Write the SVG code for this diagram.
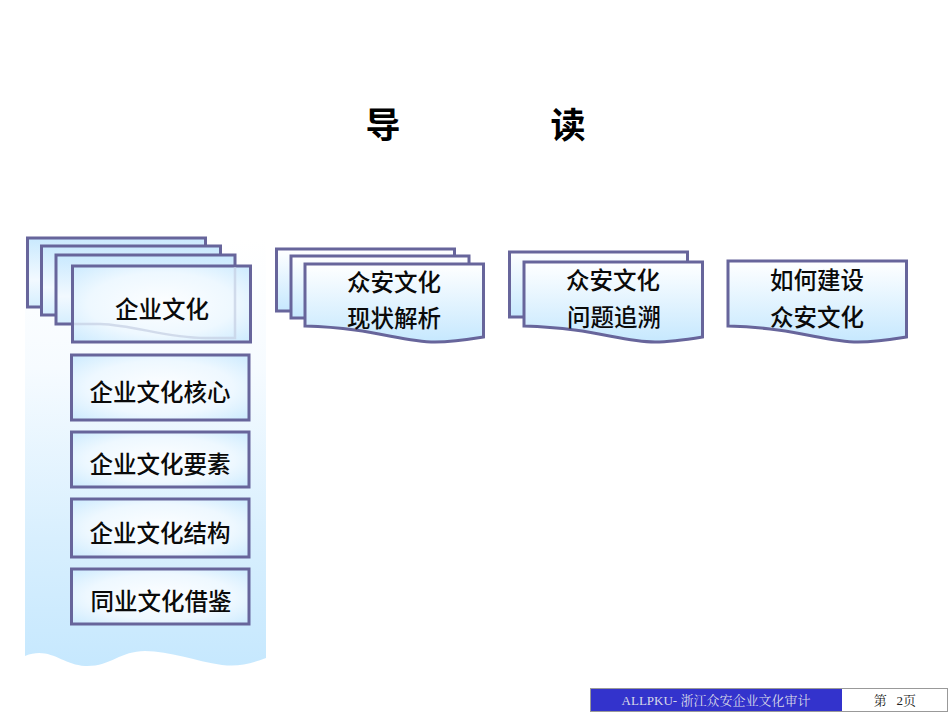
<svg xmlns="http://www.w3.org/2000/svg" width="950" height="713" viewBox="0 0 950 713">
<style>
.s{stroke:#67659b;stroke-width:3;stroke-linejoin:miter}
.lb{font-family:"Noto Sans CJK SC",sans-serif;font-size:23.500px;font-weight:500;fill:#0a0a0a;text-anchor:middle}
.t{font-family:"Noto Sans CJK SC",sans-serif;font-size:35px;font-weight:700;fill:#000;text-anchor:middle}
.f{font-family:"Liberation Serif","Noto Serif CJK SC","Noto Sans CJK SC",serif;font-size:13px;text-anchor:middle;white-space:pre}
</style>
<defs>
<linearGradient id="v" x1="0" y1="0" x2="0" y2="1"><stop offset="0" stop-color="#fff"/><stop offset="0.3" stop-color="#f6fbff"/><stop offset="0.7" stop-color="#d8effe"/><stop offset="1" stop-color="#c6e8fe"/></linearGradient>
<linearGradient id="p" x1="0" y1="0" x2="0" y2="1"><stop offset="0" stop-color="#c9e9fe"/><stop offset="0.6" stop-color="#f2f9ff"/><stop offset="1" stop-color="#d5eefe"/></linearGradient>
<linearGradient id="d" x1="0" y1="0" x2="0" y2="1"><stop offset="0" stop-color="#fff"/><stop offset="1" stop-color="#c6e8fe"/></linearGradient>
<radialGradient id="b" cx="0.5" cy="0.5" r="0.75"><stop offset="0" stop-color="#fdfeff"/><stop offset="0.55" stop-color="#eef8ff"/><stop offset="1" stop-color="#c6e8fe"/></radialGradient>
</defs>
<rect width="950" height="713" fill="#fff"/>
<g id="title"><text class="t" x="383" y="138">导</text><text class="t" x="568" y="138">读</text></g>
<g id="panel"><path d="M25 240H266V658C250 664 238 667 222 665C195 661 170 651 145 651C120 651 110 667 85 666C62 665 50 646 25 656Z" fill="url(#v)"/></g>
<g id="connectors"></g>
<g id="node-culture">
<rect class="s" x="27.500" y="238" width="178" height="69" fill="url(#p)"/>
<rect class="s" x="41.500" y="246" width="179" height="69" fill="url(#p)"/>
<rect class="s" x="56" y="255" width="179" height="69" fill="url(#p)"/>
<rect class="s" x="72.500" y="266" width="178" height="76" fill="url(#b)"/>
<path d="M74 324H100C135 325 165 338 205 338H235V267" fill="none" stroke="#c4cee2" stroke-width="2.500" opacity="0.7"/>
<text class="lb" x="162" y="318">企业文化</text>
</g>
<g id="node-core"><rect class="s" x="71.500" y="355" width="177.500" height="65" fill="url(#b)"/><text class="lb" x="160" y="401">企业文化核心</text></g>
<g id="node-elements"><rect class="s" x="71.500" y="432" width="177.500" height="55" fill="url(#b)"/><text class="lb" x="160" y="473">企业文化要素</text></g>
<g id="node-structure"><rect class="s" x="71.500" y="499" width="177.500" height="58" fill="url(#b)"/><text class="lb" x="160" y="542">企业文化结构</text></g>
<g id="node-peers"><rect class="s" x="71.500" y="569" width="177.500" height="55" fill="url(#b)"/><text class="lb" x="161" y="610">同业文化借鉴</text></g>
<g id="node-status">
<rect class="s" x="276.500" y="249" width="178" height="62" fill="url(#d)"/>
<rect class="s" x="291" y="256" width="178" height="62" fill="url(#d)"/>
<path class="s" d="M305 264H483.500V337C465 340 450 342 435 342C400 342 375 328 305 326Z" fill="url(#d)"/>
<text class="lb" x="394" y="291">众安文化</text><text class="lb" x="394" y="327">现状解析</text>
</g>
<g id="node-trace">
<rect class="s" x="509.500" y="252" width="178" height="65" fill="url(#d)"/>
<path class="s" d="M524 262H702.500V337C684 340 670 342 655 342C620 342 595 328 524 326Z" fill="url(#d)"/>
<text class="lb" x="613" y="289">众安文化</text><text class="lb" x="614" y="326">问题追溯</text>
</g>
<g id="node-build">
<path class="s" d="M728 261H906.500V337C888 340 873 342 858 342C823 342 798 328 728 326Z" fill="url(#d)"/>
<text class="lb" x="817" y="289">如何建设</text><text class="lb" x="817" y="326">众安文化</text>
</g>
<g id="footer">
<rect x="590.500" y="688.500" width="357" height="23" fill="#fff" stroke="#999" stroke-width="1"/>
<rect x="591" y="689" width="251" height="22" fill="#3333cc"/>
<text class="f" x="716" y="705" fill="#d8d8e8">ALLPKU- 浙江众安企业文化审计</text>
<text class="f" x="895" y="705" fill="#222">第   2页</text>
</g>
</svg>
